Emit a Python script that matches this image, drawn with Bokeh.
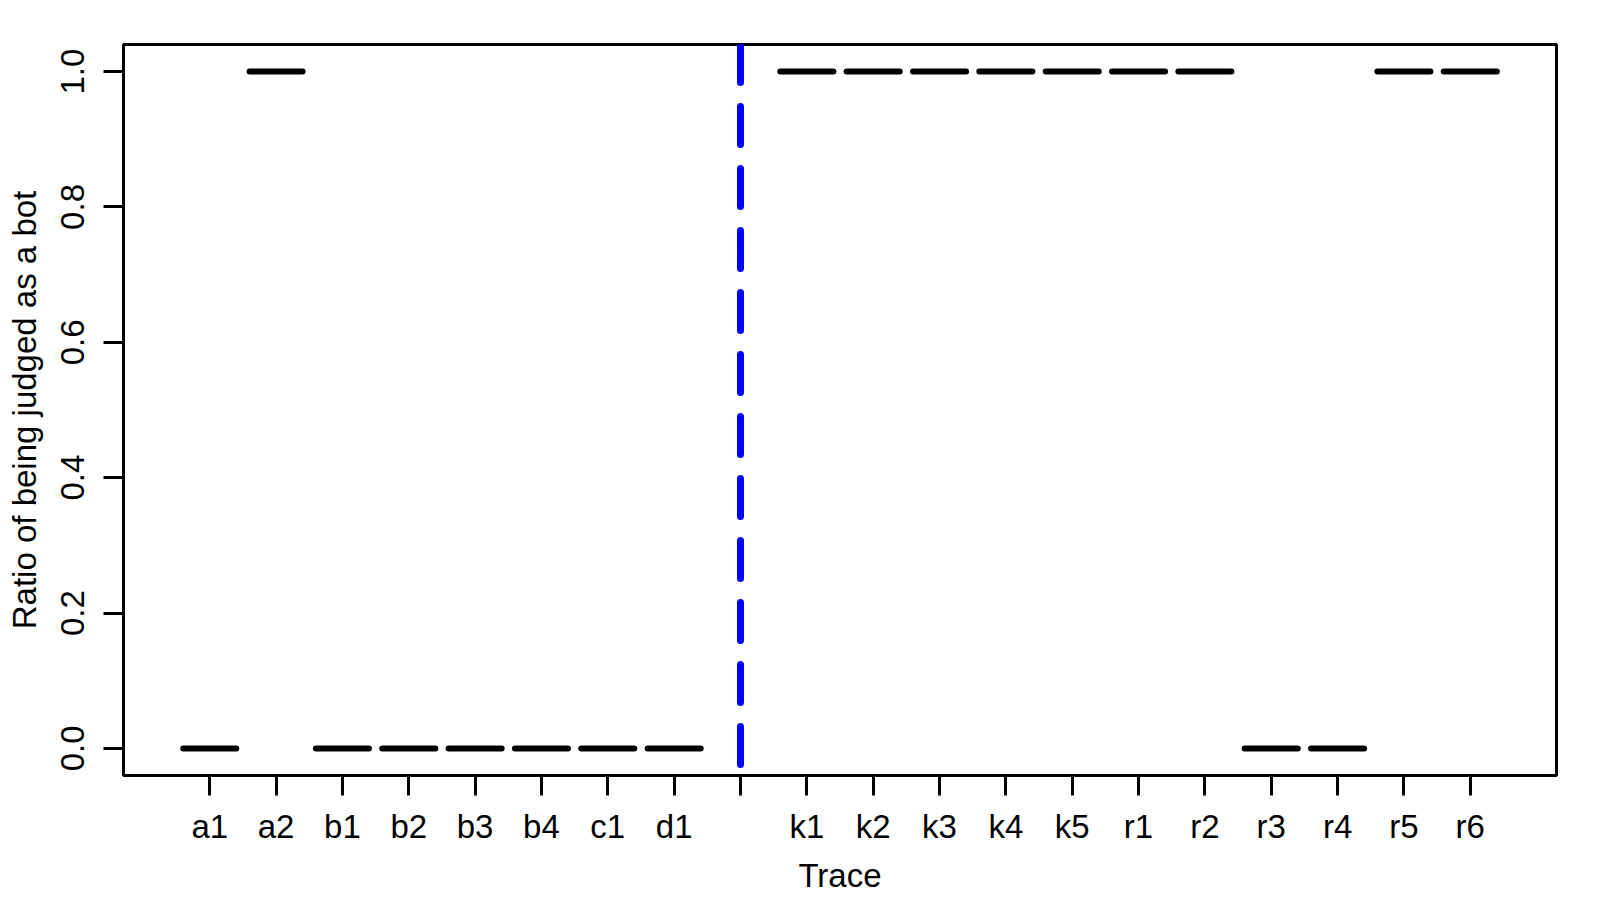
from bokeh.plotting import figure
from bokeh.models import ColumnDataSource, FixedTicker, PrintfTickFormatter, Span, Range1d
from bokeh.embed import file_html
from bokeh.resources import INLINE

# Data
left_traces = ["a1", "a2", "b1", "b2", "b3", "b4", "c1", "d1"]
left_ratios = [0.0, 1.0, 0.0, 0.0, 0.0, 0.0, 0.0, 0.0]
right_traces = ["k1", "k2", "k3", "k4", "k5", "r1", "r2", "r3", "r4", "r5", "r6"]
right_ratios = [1.0, 1.0, 1.0, 1.0, 1.0, 1.0, 1.0, 0.0, 0.0, 1.0, 1.0]
y_ticks = [0.0, 0.2, 0.4, 0.6, 0.8, 1.0]

# positions: left group, one blank slot (separator), right group
n_left = len(left_traces)
sep_pos = n_left + 1
left_pos = list(range(1, n_left + 1))
right_pos = list(range(sep_pos + 1, sep_pos + 1 + len(right_traces)))
all_pos = left_pos + right_pos
all_traces = left_traces + right_traces
all_ratios = left_ratios + right_ratios
n_slots = len(all_pos) + 1

half_w = 0.4
src = ColumnDataSource(dict(
    x0=[p - half_w for p in all_pos],
    x1=[p + half_w for p in all_pos],
    y=all_ratios,
))

FONT = "Liberation Sans"
FS = "33px"

p = figure(width=1584, height=896, output_backend="svg", toolbar_location=None,
           x_range=Range1d(0.5 - 0.04 * n_slots, n_slots + 0.5 + 0.04 * n_slots),
           y_range=Range1d(-0.04, 1.04),
           min_border_left=123, min_border_right=28, min_border_top=44, min_border_bottom=115)
p.background_fill_color = "white"
p.border_fill_color = "white"
p.outline_line_color = "black"
p.outline_line_width = 3
p.xgrid.visible = False
p.ygrid.visible = False

p.segment(x0="x0", x1="x1", y0="y", y1="y", source=src, line_color="black",
          line_width=6, line_cap="round")

sep = Span(location=sep_pos, dimension="height", line_color="blue", line_width=7,
           line_dash="38 24", line_cap="round")
p.add_layout(sep)

tick_pos = list(range(1, n_slots + 1))
overrides = {sep_pos: ""}
for pos, name in zip(all_pos, all_traces):
    overrides[pos] = name

xa = p.xaxis[0]
xa.ticker = FixedTicker(ticks=tick_pos)
xa.major_label_overrides = overrides
xa.axis_label = "Trace"

ya = p.yaxis[0]
ya.ticker = FixedTicker(ticks=y_ticks)
ya.formatter = PrintfTickFormatter(format="%.1f")
ya.axis_label = "Ratio of being judged as a bot"
ya.major_label_orientation = "vertical"

for ax in (xa, ya):
    ax.axis_line_color = None
    ax.major_tick_in = 0
    ax.major_tick_out = 20
    ax.major_tick_line_width = 3
    ax.major_tick_line_color = "black"
    ax.minor_tick_line_color = None
    ax.major_label_text_font = FONT
    ax.major_label_text_font_size = FS
    ax.major_label_text_color = "black"
    ax.axis_label_text_font = FONT
    ax.axis_label_text_font_size = FS
    ax.axis_label_text_font_style = "normal"
    ax.axis_label_text_color = "black"

xa.major_label_standoff = 12
xa.axis_label_standoff = 9
ya.major_label_standoff = 19
ya.axis_label_standoff = 16

open("out.html", "w").write(file_html(p, INLINE))
